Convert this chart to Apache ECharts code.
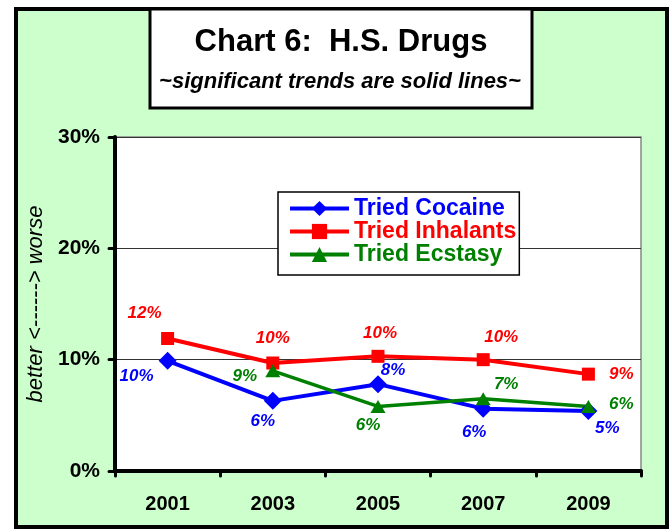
<!DOCTYPE html>
<html>
<head>
<meta charset="utf-8">
<script src="https://cdn.jsdelivr.net/npm/echarts@6/dist/echarts.min.js"></script>
<style>
html,body{margin:0;padding:0;background:#fff;}
#chart{width:670px;height:529px;}
</style>
</head>
<body>
<div id="chart"></div>
<script>
// ---- data ----
var years = ['2001', '2003', '2005', '2007', '2009'];
var cocaine = [9.9, 6.3, 7.8, 5.6, 5.4];
var inhalants = [11.9, 9.7, 10.3, 10.0, 8.7];
var ecstasy = [null, 9.0, 5.8, 6.5, 5.8];
var seriesNames = ['Tried Cocaine', 'Tried Inhalants', 'Tried Ecstasy'];
var yTicks = [0, 10, 20, 30];

// ---- layout of point labels (offsets from the marker centre) ----
var offCocaine = [[-31, 16], [-10, 20], [15, -14], [-9, 24], [19, 17]];
var offInhal = [[-23, -25], [0, -25], [2, -23], [18, -22], [33, 0]];
var offEcst = [null, [-28, 6], [-10, 19], [23, -14], [33, -2]];

var FONT = '"Liberation Sans", Arial, sans-serif';

function mk(values, offs) {
  return values.map(function (v, i) {
    if (v === null) return '-';
    return { value: v, label: { offset: offs[i] } };
  });
}

function lineSeries(name, values, offs, color, symbol, size, width) {
  return {
    name: name,
    type: 'line',
    data: mk(values, offs),
    symbol: symbol,
    symbolSize: size,
    showAllSymbol: true,
    connectNulls: false,
    itemStyle: { color: color },
    lineStyle: { color: color, width: width },
    emphasis: { disabled: true },
    z: 5,
    label: {
      show: true,
      position: 'inside',
      color: color,
      fontFamily: FONT,
      fontWeight: 'bold',
      fontStyle: 'italic',
      fontSize: 17,
      formatter: function (p) { return Math.round(p.value) + '%'; }
    }
  };
}

var chart = echarts.init(document.getElementById('chart'), null, { renderer: 'canvas' });

var option = {
  animation: false,
  backgroundColor: '#fff',
  graphic: [
    {
      type: 'rect', z: -10, silent: true,
      shape: { x: 16, y: 9, width: 651, height: 518 },
      style: { fill: '#CCFFCC', stroke: '#000', lineWidth: 4 }
    },
    {
      type: 'rect', z: 10, silent: true,
      shape: { x: 150, y: 9, width: 382, height: 99 },
      style: { fill: '#fff', stroke: '#000', lineWidth: 3 }
    },
    {
      type: 'text', z: 11, silent: true,
      x: 341, y: 42,
      style: {
        text: 'Chart 6:  H.S. Drugs',
        font: 'bold 31px ' + FONT,
        fill: '#000', textAlign: 'center', textVerticalAlign: 'middle'
      }
    },
    {
      type: 'text', z: 11, silent: true,
      x: 340, y: 82,
      style: {
        text: '~significant trends are solid lines~',
        font: 'italic bold 22px ' + FONT,
        fill: '#000', textAlign: 'center', textVerticalAlign: 'middle'
      }
    }
  ],
  legend: {
    orient: 'vertical',
    left: 278,
    top: 192,
    backgroundColor: '#fff',
    borderColor: '#000',
    borderWidth: 1.5,
    borderRadius: 0,
    padding: [5, 3, 9, 10],
    itemGap: 0,
    itemWidth: 59,
    itemHeight: 19,
    selectedMode: false,
    lineStyle: { width: 4 },
    textStyle: { fontFamily: FONT, fontWeight: 'bold', fontSize: 23, lineHeight: 21 },
    data: [
      { name: seriesNames[0], textStyle: { color: '#0000FF' } },
      { name: seriesNames[1], textStyle: { color: '#FF0000' } },
      { name: seriesNames[2], textStyle: { color: '#008000' } }
    ]
  },
  grid: {
    left: 115, right: 29, top: 137, bottom: 58,
    show: true,
    backgroundColor: '#fff',
    borderColor: '#888',
    borderWidth: 1.5,
    containLabel: false
  },
  xAxis: {
    type: 'category',
    data: years,
    boundaryGap: true,
    axisLine: { lineStyle: { color: '#000', width: 4, cap: 'round' } },
    axisTick: { show: true, length: 5, lineStyle: { color: '#000', width: 3, cap: 'round' } },
    axisLabel: { color: '#000', fontFamily: FONT, fontWeight: 'bold', fontSize: 20, margin: 23 },
    splitLine: { show: false }
  },
  yAxis: {
    type: 'value',
    min: yTicks[0],
    max: yTicks[yTicks.length - 1],
    interval: yTicks[1] - yTicks[0],
    name: 'better <------> worse',
    nameLocation: 'middle',
    nameRotate: 90,
    nameGap: 67,
    nameTextStyle: { color: '#000', fontFamily: FONT, fontStyle: 'italic', fontSize: 22 },
    axisLine: { show: true, lineStyle: { color: '#000', width: 4, cap: 'round' } },
    axisTick: { show: true, length: 6, lineStyle: { color: '#000', width: 3, cap: 'round' } },
    axisLabel: { color: '#000', fontFamily: FONT, fontWeight: 'bold', fontSize: 21, margin: 15,
      formatter: '{value}%' },
    splitLine: { show: true, lineStyle: { color: '#333', width: 1 } }
  },
  series: [
    lineSeries(seriesNames[0], cocaine, offCocaine, '#0000FF', 'diamond', [18, 18], 4),
    lineSeries(seriesNames[1], inhalants, offInhal, '#FF0000', 'rect', 13, 4),
    lineSeries(seriesNames[2], ecstasy, offEcst, '#008000', 'triangle', [15, 13], 3.5)
  ]
};

chart.setOption(option);
</script>
</body>
</html>
